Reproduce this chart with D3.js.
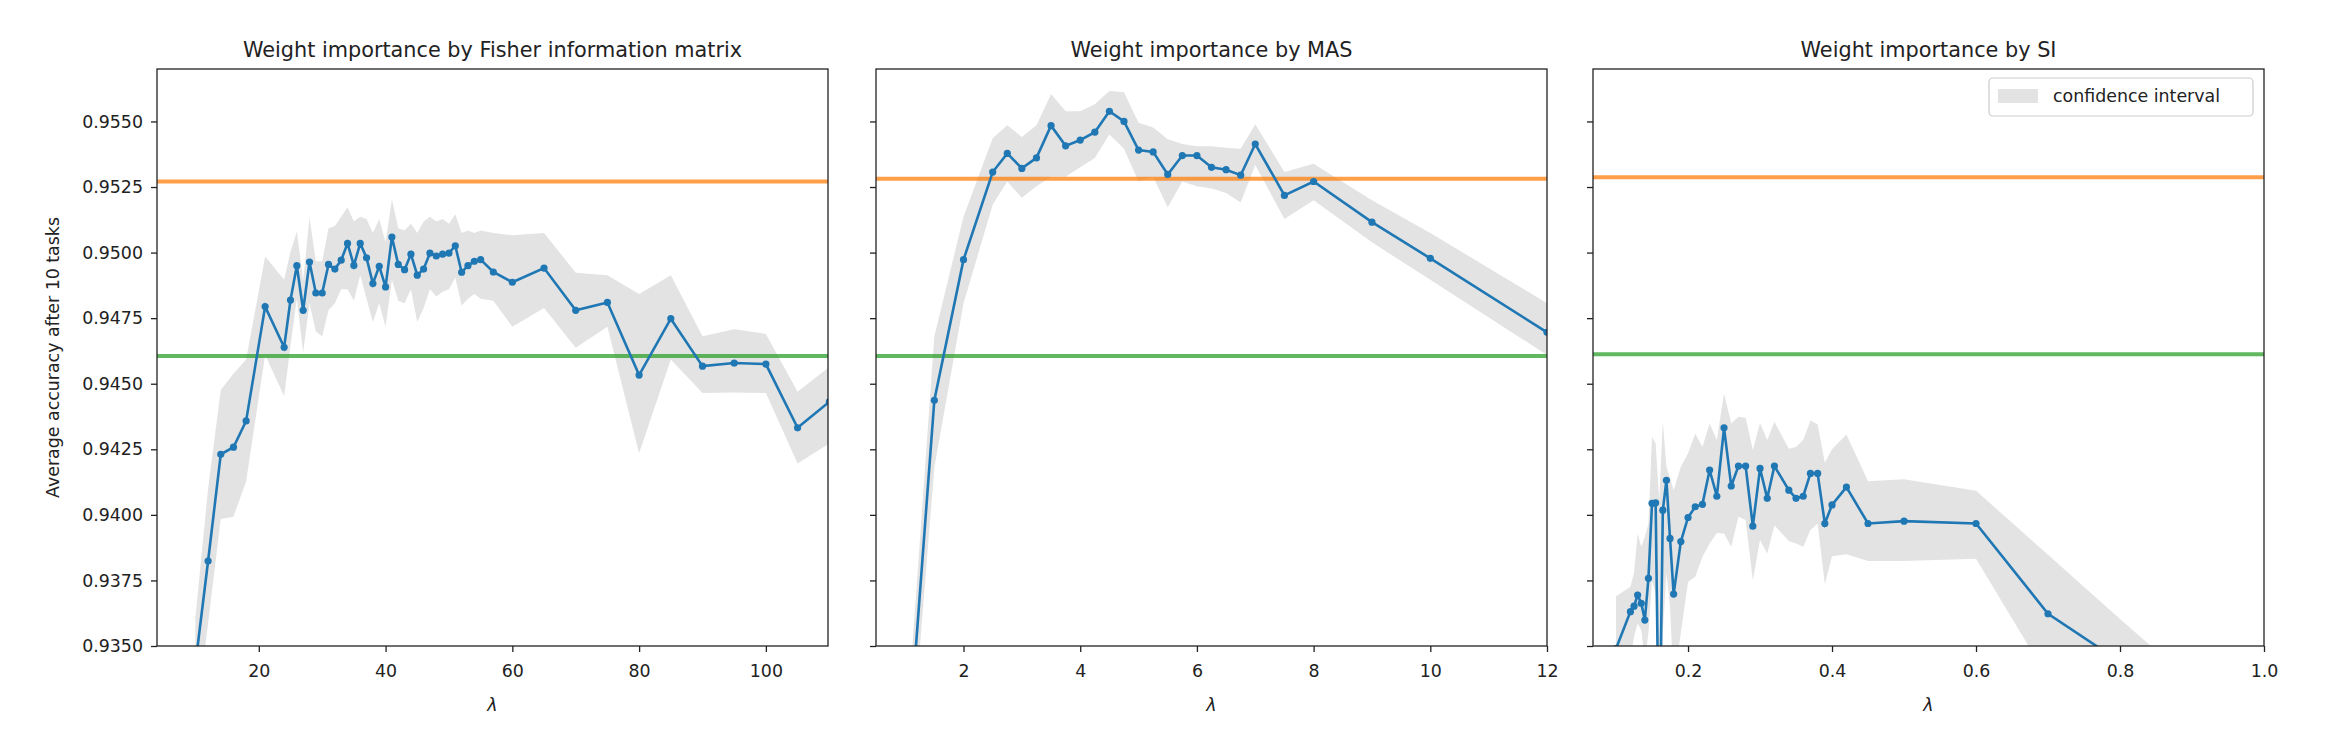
<!DOCTYPE html>
<html>
<head>
<meta charset="utf-8">
<script src="https://cdn.jsdelivr.net/npm/d3@7"></script>
<style>
  body { margin: 0; background: #fff; }
  svg text { font-family: "DejaVu Sans", sans-serif; fill: #222; }
</style>
</head>
<body>
<div id="chart"></div>
<script>
// ---- data ----
var fisherLambda = [10, 12, 14, 16, 18, 21, 24, 25, 26, 27, 28, 29, 30, 31, 32, 33, 34, 35, 36, 37, 38, 39, 40,
  41, 42, 43, 44, 45, 46, 47, 48, 49, 50, 51, 52, 53, 54, 55, 57, 60, 65, 70, 75, 80, 85, 90, 95, 100, 105, 110];
var fisherMean = [0.9343, 0.93824, 0.94231, 0.94258, 0.94358, 0.94794, 0.94639, 0.94819, 0.94950, 0.94780, 0.94964,
  0.94846, 0.94846, 0.94955, 0.94937, 0.94971, 0.95035, 0.94951, 0.95035, 0.94980, 0.94882, 0.94948, 0.94869,
  0.95059, 0.94955, 0.94935, 0.94994, 0.94914, 0.94937, 0.94998, 0.94987, 0.94994, 0.94998, 0.95026, 0.94925,
  0.94950, 0.94967, 0.94973, 0.94926, 0.94887, 0.94941, 0.94780, 0.94810, 0.94533, 0.94748, 0.94567, 0.94579,
  0.94575, 0.94332, 0.94431];
var fisherLower = [0.9319, 0.93587, 0.93984, 0.93993, 0.94127, 0.94610, 0.94453, 0.94646, 0.94824, 0.94619, 0.94807,
  0.94699, 0.94681, 0.94780, 0.94807, 0.94860, 0.94860, 0.94816, 0.94914, 0.94824, 0.94735, 0.94807, 0.94717,
  0.94896, 0.94816, 0.94807, 0.94860, 0.94735, 0.94789, 0.94860, 0.94833, 0.94851, 0.94860, 0.94905, 0.94798,
  0.94824, 0.94842, 0.94824, 0.94816, 0.94717, 0.94789, 0.94637, 0.94717, 0.94235, 0.94592, 0.94465, 0.94467,
  0.94465, 0.94196, 0.94272];
var fisherUpper = [0.9361, 0.9410, 0.94476, 0.94538, 0.94592, 0.94985, 0.94896, 0.95003, 0.95080, 0.94896, 0.95134,
  0.94967, 0.94967, 0.95093, 0.95101, 0.95137, 0.95173, 0.95119, 0.95137, 0.95128, 0.95075, 0.95128, 0.95039,
  0.95203, 0.95093, 0.95084, 0.95110, 0.95075, 0.95119, 0.95137, 0.95119, 0.95128, 0.95110, 0.95146, 0.95075,
  0.95084, 0.95075, 0.95084, 0.95075, 0.95066, 0.95075, 0.94923, 0.94914, 0.94842, 0.94914, 0.94681, 0.94708,
  0.94690, 0.94469, 0.94564];

var masLambda = [1.0, 1.5, 2.0, 2.5, 2.75, 3.0, 3.25, 3.5, 3.75, 4.0, 4.25, 4.5, 4.75, 5.0, 5.25, 5.5, 5.75, 6.0,
  6.25, 6.5, 6.75, 7.0, 7.5, 8.0, 9.0, 10.0, 12.0];
var masMean = [0.9295, 0.94437, 0.94973, 0.95307, 0.95378, 0.95321, 0.95361, 0.95484, 0.95407, 0.95429, 0.95459,
  0.95539, 0.95500, 0.95391, 0.95384, 0.95298, 0.95370, 0.95370, 0.95325, 0.95316, 0.95295, 0.95414, 0.95218,
  0.95271, 0.95116, 0.94978, 0.94696];
var masLower = [0.9280, 0.94181, 0.94807, 0.95182, 0.95271, 0.95209, 0.95253, 0.95289, 0.95289, 0.95325, 0.95361,
  0.95450, 0.95396, 0.95271, 0.95289, 0.95173, 0.95271, 0.95253, 0.95244, 0.95227, 0.95191, 0.95334, 0.95128,
  0.95200, 0.95039, 0.94896, 0.94610];
var masUpper = [0.9311, 0.94681, 0.95137, 0.95436, 0.95486, 0.95441, 0.95486, 0.95605, 0.95539, 0.95539, 0.95566,
  0.95616, 0.95611, 0.95495, 0.95477, 0.95432, 0.95414, 0.95405, 0.95405, 0.95400, 0.95396, 0.95489, 0.95307,
  0.95339, 0.95200, 0.95075, 0.94807];

var siLambda = [0.1, 0.12, 0.125, 0.13, 0.135, 0.14, 0.145, 0.15, 0.155, 0.16, 0.165, 0.17, 0.175, 0.18, 0.19,
  0.2, 0.21, 0.22, 0.23, 0.24, 0.25, 0.26, 0.27, 0.28, 0.29, 0.3, 0.31, 0.32, 0.34, 0.35, 0.36, 0.37, 0.38, 0.39,
  0.4, 0.42, 0.45, 0.5, 0.6, 0.7, 0.8, 0.9, 1.0];
var siMean = [0.9349, 0.93631, 0.93652, 0.93694, 0.93663, 0.93599, 0.93758, 0.94044, 0.94046, 0.9300, 0.94018,
  0.94132, 0.93910, 0.93698, 0.93898, 0.93990, 0.94031, 0.94040, 0.94171, 0.94071, 0.94332, 0.94110, 0.94186,
  0.94186, 0.93957, 0.94177, 0.94063, 0.94186, 0.94094, 0.94063, 0.94071, 0.94158, 0.94158, 0.93967, 0.94038,
  0.94106, 0.93967, 0.93976, 0.93967, 0.93623, 0.93440, 0.9320, 0.9300];
var siLower = [0.9329, 0.9345, 0.93536, 0.93586, 0.93561, 0.9345, 0.93550, 0.93750, 0.93700, 0.9280, 0.93550,
  0.93780, 0.93650, 0.93350, 0.93550, 0.93744, 0.93764, 0.93840, 0.93891, 0.93931, 0.93929, 0.93878, 0.93993,
  0.93980, 0.93751, 0.93904, 0.93853, 0.93960, 0.93900, 0.93891, 0.93878, 0.93942, 0.93967, 0.93735, 0.93842,
  0.93850, 0.93824, 0.93824, 0.93833, 0.93377, 0.93200, 0.9295, 0.9270];
var siUpper = [0.9369, 0.93726, 0.93780, 0.93929, 0.93878, 0.93917, 0.93967, 0.94298, 0.94272, 0.94056, 0.94355,
  0.94183, 0.94140, 0.94094, 0.94183, 0.94234, 0.94310, 0.94259, 0.94348, 0.94285, 0.94463, 0.94348, 0.94374,
  0.94370, 0.94247, 0.94350, 0.94285, 0.94355, 0.94252, 0.94259, 0.94285, 0.94360, 0.94345, 0.94199, 0.94250,
  0.94306, 0.94128, 0.94136, 0.94092, 0.93848, 0.93603, 0.93363, 0.9320];

// the two reference levels drawn across each panel
var orangeLevel = [0.95271, 0.95282, 0.95287];
var greenLevel = [0.94606, 0.94606, 0.94612];

var panelTitles = ["Weight importance by Fisher information matrix", "Weight importance by MAS", "Weight importance by SI"];
var xDomains = [[3.94, 109.8], [0.5, 12], [0.068, 1.0]];
var xTicks = [[20, 40, 60, 80, 100], [2, 4, 6, 8, 10, 12], [0.2, 0.4, 0.6, 0.8, 1.0]];
var yTicks = [0.935, 0.9375, 0.94, 0.9425, 0.945, 0.9475, 0.95, 0.9525, 0.955];
var yDomain = [0.935, 0.957];

// ---- layout ----
var w = 2326, h = 734;
var panelLeft = [157, 876, 1593];
var panelWidth = 671;
var plotTop = 69, plotBottom = 646;

var bandColor = "#e3e3e3";
var lineColor = "#1f77b4";

var svg = d3.select("#chart")
  .append("svg")
  .attr("width", w)
  .attr("height", h);

var panels = [
  { lam: fisherLambda, mean: fisherMean, lo: fisherLower, hi: fisherUpper },
  { lam: masLambda, mean: masMean, lo: masLower, hi: masUpper },
  { lam: siLambda, mean: siMean, lo: siLower, hi: siUpper }
];

var y = d3.scaleLinear().domain(yDomain).range([plotBottom, plotTop]);

panels.forEach(function (p, i) {
  var x = d3.scaleLinear().domain(xDomains[i]).range([panelLeft[i], panelLeft[i] + panelWidth]);
  var g = svg.append("g");

  g.append("clipPath").attr("id", "clip" + i)
    .append("rect")
    .attr("x", panelLeft[i]).attr("y", plotTop)
    .attr("width", panelWidth).attr("height", plotBottom - plotTop);

  var plot = g.append("g").attr("clip-path", "url(#clip" + i + ")");

  var rows = p.lam.map(function (l, k) {
    return { x: l, m: p.mean[k], lo: p.lo[k], hi: p.hi[k] };
  });

  // confidence band
  plot.append("path")
    .datum(rows)
    .attr("d", d3.area()
      .x(function (d) { return x(d.x); })
      .y0(function (d) { return y(d.lo); })
      .y1(function (d) { return y(d.hi); }))
    .style("fill", bandColor)
    .style("stroke", "none");

  // horizontal reference lines
  plot.append("line")
    .attr("x1", panelLeft[i]).attr("x2", panelLeft[i] + panelWidth)
    .attr("y1", y(orangeLevel[i])).attr("y2", y(orangeLevel[i]))
    .style("stroke", "#ff7f0e").style("stroke-opacity", 0.75).style("stroke-width", 4);
  plot.append("line")
    .attr("x1", panelLeft[i]).attr("x2", panelLeft[i] + panelWidth)
    .attr("y1", y(greenLevel[i])).attr("y2", y(greenLevel[i]))
    .style("stroke", "#2ca02c").style("stroke-opacity", 0.75).style("stroke-width", 4);

  // mean line with dot markers
  plot.append("path")
    .datum(rows)
    .attr("d", d3.line()
      .x(function (d) { return x(d.x); })
      .y(function (d) { return y(d.m); }))
    .style("fill", "none")
    .style("stroke", lineColor)
    .style("stroke-width", 2.6);

  plot.selectAll("circle")
    .data(rows)
    .enter()
    .append("circle")
    .attr("cx", function (d) { return x(d.x); })
    .attr("cy", function (d) { return y(d.m); })
    .attr("r", 3.6)
    .style("fill", lineColor);

  // axes
  var xAxis = d3.axisBottom(x).tickValues(xTicks[i]).tickSize(6).tickPadding(8)
    .tickFormat(i === 2 ? d3.format(".1f") : d3.format("d"));
  var gx = g.append("g").attr("transform", "translate(0," + plotBottom + ")").call(xAxis);
  gx.select(".domain").remove();
  gx.selectAll("text").style("font-size", "17.4px").attr("dy", "0.95em");

  var yAxis = d3.axisLeft(y).tickValues(yTicks).tickSize(6).tickPadding(8)
    .tickFormat(i === 0 ? d3.format(".4f") : "");
  var gy = g.append("g").attr("transform", "translate(" + panelLeft[i] + ",0)").call(yAxis);
  gy.select(".domain").remove();
  gy.selectAll("text").style("font-size", "17.4px");
  g.selectAll(".tick line").style("stroke", "#222").style("stroke-width", 1.3);

  // frame
  g.append("rect")
    .attr("x", panelLeft[i]).attr("y", plotTop)
    .attr("width", panelWidth).attr("height", plotBottom - plotTop)
    .style("fill", "none").style("stroke", "#222").style("stroke-width", 1.3);

  // title and x label
  g.append("text")
    .attr("x", panelLeft[i] + panelWidth / 2).attr("y", 57)
    .attr("text-anchor", "middle")
    .style("font-size", "20.8px")
    .text(panelTitles[i]);

  g.append("text")
    .attr("x", panelLeft[i] + panelWidth / 2).attr("y", 711)
    .attr("text-anchor", "middle")
    .style("font-size", "17.4px")
    .style("font-style", "italic")
    .text("λ");
});

// y axis label
svg.append("text")
  .attr("transform", "translate(59," + ((plotTop + plotBottom) / 2) + ") rotate(-90)")
  .attr("text-anchor", "middle")
  .style("font-size", "17.4px")
  .text("Average accuracy after 10 tasks");

// legend in the last panel
var legend = svg.append("g");
legend.append("rect")
  .attr("x", 1989).attr("y", 78).attr("width", 264).attr("height", 38)
  .attr("rx", 4)
  .style("fill", "white").style("fill-opacity", 0.8)
  .style("stroke", "#cccccc").style("stroke-width", 1.2);
legend.append("rect")
  .attr("x", 1998).attr("y", 89).attr("width", 40).attr("height", 14)
  .style("fill", bandColor);
legend.append("text")
  .attr("x", 2053).attr("y", 102)
  .style("font-size", "17.4px")
  .text("confidence interval");
</script>
</body>
</html>
